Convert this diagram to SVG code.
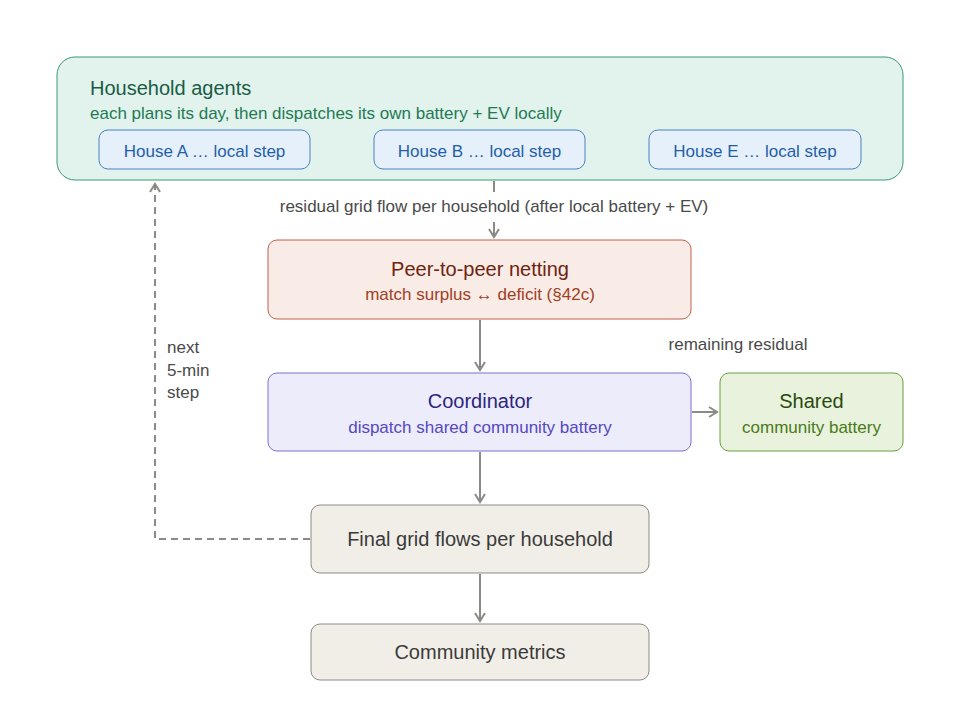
<svg xmlns="http://www.w3.org/2000/svg" width="960" height="706" viewBox="0 0 960 706">
<defs>
<marker id="ah" viewBox="0 0 12 12" refX="10" refY="6" markerWidth="12" markerHeight="12" markerUnits="userSpaceOnUse" orient="auto">
<path d="M2,1 L10,6 L2,11" fill="none" stroke="#8a8a86" stroke-width="2"/>
</marker>
<style>
text{font-family:"Liberation Sans",Arial,sans-serif}
.t{font-size:20px;text-anchor:middle}
.s{font-size:17px;text-anchor:middle}
.lbl{font-size:17px;fill:#4a4a4a}
.c{fill:none;stroke:#8a8a86;stroke-width:2}
.house rect{fill:#e6f0fb;stroke:#4a80c0;stroke-width:1}
.house text{fill:#1f5fa8}
</style>
</defs>
<rect width="960" height="706" fill="#ffffff"/>
<g id="agents">
<rect x="57" y="57" width="846" height="123" rx="18" fill="#e1f3ec" stroke="#3a9a73" stroke-width="1"/>
<text x="90" y="95" font-size="20" fill="#1a5c45">Household agents</text>
<text x="90" y="119" font-size="17" fill="#1f7a55">each plans its day, then dispatches its own battery + EV locally</text>
</g>
<g id="houseA" class="house"><rect x="99" y="130" width="211" height="39" rx="9"/><text class="s" x="204.5" y="157">House A … local step</text></g>
<g id="houseB" class="house"><rect x="374" y="130" width="211" height="39" rx="9"/><text class="s" x="479.5" y="157">House B … local step</text></g>
<g id="houseE" class="house"><rect x="649" y="130" width="212" height="39" rx="9"/><text class="s" x="755" y="157">House E … local step</text></g>
<g id="connectors">
<path class="c" d="M494,181 V192"/>
<path class="c" d="M494,222 V237" marker-end="url(#ah)"/>
<path class="c" d="M480,320 V370" marker-end="url(#ah)"/>
<path class="c" d="M692,412 H717" marker-end="url(#ah)"/>
<path class="c" d="M480,452 V502" marker-end="url(#ah)"/>
<path class="c" d="M480,574 V621" marker-end="url(#ah)"/>
<path class="c" d="M310,539 H155 V184" stroke-dasharray="7,5" marker-end="url(#ah)"/>
<text class="lbl" x="494" y="212" text-anchor="middle">residual grid flow per household (after local battery + EV)</text>
<text class="lbl" x="738" y="350" text-anchor="middle">remaining residual</text>
<text class="lbl" x="167" y="353">next</text>
<text class="lbl" x="167" y="376">5-min</text>
<text class="lbl" x="167" y="398">step</text>
</g>
<g id="p2p">
<rect x="268" y="240" width="423" height="79" rx="9" fill="#f9ebe6" stroke="#c0604a" stroke-width="1"/>
<text class="t" x="480" y="276" fill="#6e2410">Peer-to-peer netting</text>
<text class="s" x="480" y="300" fill="#a0401f">match surplus ↔ deficit (§42c)</text>
</g>
<g id="coordinator">
<rect x="268" y="373" width="423" height="78" rx="9" fill="#ececfb" stroke="#7b70d0" stroke-width="1"/>
<text class="t" x="480" y="408" fill="#2c2580">Coordinator</text>
<text class="s" x="480" y="433" fill="#5548c0">dispatch shared community battery</text>
</g>
<g id="shared">
<rect x="720" y="373" width="183" height="78" rx="9" fill="#e8f2dc" stroke="#6aa040" stroke-width="1"/>
<text class="t" x="811.5" y="408" fill="#2a4a10">Shared</text>
<text class="s" x="811.5" y="433" fill="#4a7a1a">community battery</text>
</g>
<g id="final">
<rect x="311" y="505" width="338" height="68" rx="9" fill="#f1eee8" stroke="#8a8a84" stroke-width="1"/>
<text class="t" x="480" y="546" fill="#3a3a3a">Final grid flows per household</text>
</g>
<g id="metrics">
<rect x="311" y="624" width="338" height="56" rx="9" fill="#f1eee8" stroke="#8a8a84" stroke-width="1"/>
<text class="t" x="480" y="659" fill="#3a3a3a">Community metrics</text>
</g>
</svg>
